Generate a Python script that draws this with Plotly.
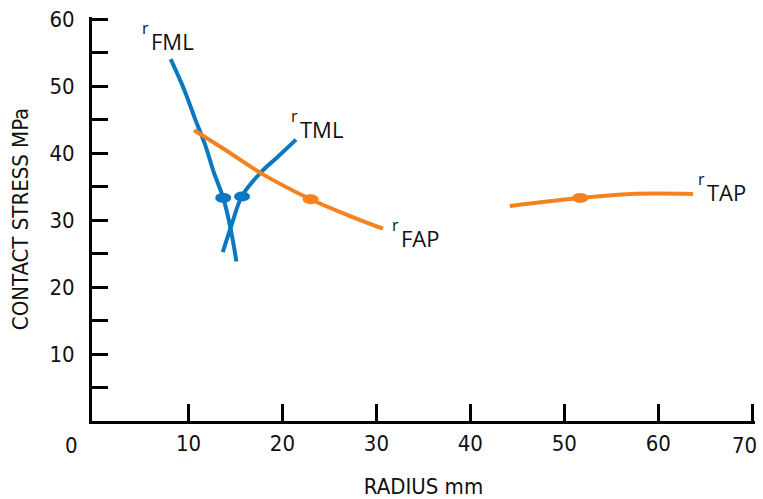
import plotly.graph_objects as go

# ---- data ----
fml_x = [8.1, 9.5, 10.7, 11.8, 12.7, 13.7, 14.5, 15.1]
fml_y = [54.0, 49.6, 45.1, 41.1, 37.1, 33.3, 28.6, 23.8]

tml_x = [13.65, 14.6, 15.7, 17.7, 19.4, 21.45]
tml_y = [25.2, 29.3, 33.6, 37.1, 39.3, 42.0]

fap_x = [10.6, 14.1, 17.7, 23.0, 27.0, 30.7]
fap_y = [43.4, 40.3, 37.0, 33.1, 30.7, 28.7]

tap_x = [44.2, 51.7, 57.1, 63.7]
tap_y = [32.1, 33.3, 33.9, 33.9]

blue_pts_x = [13.7, 15.7]
blue_pts_y = [33.3, 33.5]
orange_pts_x = [23.0, 51.7]
orange_pts_y = [33.1, 33.3]

labels = ["FML", "TML", "FAP", "TAP"]
label_x = [4.9, 20.8, 31.6, 64.1]
label_y = [55.7, 42.5, 26.3, 33.1]

x_ticks = [10, 20, 30, 40, 50, 60, 70]
x_ticktext = ["10", "20", "30", "40", "50", "60", ""]   # "0" and "70" drawn at the corners
y_ticks = [0, 5, 10, 15, 20, 25, 30, 35, 40, 45, 50, 55, 60]
y_ticktext = ["" if (v % 10 or v == 0) else str(v) for v in y_ticks]

BLUE = "#0a79c2"
ORANGE = "#f5821f"
TICKFONT = "DejaVu Sans Condensed, Liberation Sans Narrow, sans-serif"
LABFONT = "Open Sans, Noto Sans, sans-serif"
TXT = "#111111"

fig = go.Figure()
for xs, ys, c in [(fml_x, fml_y, BLUE), (tml_x, tml_y, BLUE),
                  (fap_x, fap_y, ORANGE), (tap_x, tap_y, ORANGE)]:
    fig.add_trace(go.Scatter(x=xs, y=ys, mode="lines",
                             line=dict(color=c, width=4, shape="spline"),
                             showlegend=False, hoverinfo="skip"))

shapes = []
for xs, ys, c in [(blue_pts_x, blue_pts_y, BLUE), (orange_pts_x, orange_pts_y, ORANGE)]:
    for x, y in zip(xs, ys):
        shapes.append(dict(type="circle", xref="x", yref="y",
                           xsizemode="pixel", ysizemode="pixel",
                           xanchor=x, yanchor=y, x0=-8, x1=8, y0=-5, y1=5,
                           fillcolor=c, line=dict(width=0)))

annotations = []
for t, x, y in zip(labels, label_x, label_y):
    annotations.append(dict(x=x, y=y, xref="x", yref="y", text=t,
                            showarrow=False, xanchor="left", yanchor="bottom",
                            xshift=8, yshift=-10,
                            font=dict(family=LABFONT, size=22, color=TXT)))
    annotations.append(dict(x=x, y=y, xref="x", yref="y", text="r",
                            showarrow=False, xanchor="left", yanchor="bottom",
                            xshift=-1, yshift=7,
                            font=dict(family=LABFONT, size=16, color=TXT)))
annotations.append(dict(x=-0.018, y=-0.025, xref="paper", yref="paper", text="0",
                        showarrow=False, xanchor="right", yanchor="top",
                        font=dict(family=TICKFONT, size=22, color=TXT)))
annotations.append(dict(x=1.006, y=-0.025, xref="paper", yref="paper", text="70",
                        showarrow=False, xanchor="right", yanchor="top",
                        font=dict(family=TICKFONT, size=22, color=TXT)))

fig.update_layout(
    width=763, height=499,
    margin=dict(l=91.5, r=8.2, t=17, b=78),
    plot_bgcolor="white", paper_bgcolor="white",
    shapes=shapes, annotations=annotations,
    xaxis=dict(range=[-0.27, 70.3], tickvals=x_ticks, ticktext=x_ticktext,
               ticks="inside", ticklen=17, tickwidth=2.5, tickcolor="black",
               showline=True, linecolor="black", linewidth=3, showgrid=False,
               zeroline=False, ticklabelstandoff=1, automargin=False,
               ticklabeloverflow="allow",
               tickfont=dict(family=TICKFONT, size=22, color=TXT),
               title=dict(text="RADIUS mm", font=dict(family=TICKFONT, size=22, color=TXT),
                          standoff=25)),
    yaxis=dict(range=[0, 60.3], tickvals=y_ticks, ticktext=y_ticktext,
               ticks="inside", ticklen=16, tickwidth=2.5, tickcolor="black",
               showline=True, linecolor="black", linewidth=3, showgrid=False,
               zeroline=False, ticklabelstandoff=10, automargin=False,
               ticklabeloverflow="allow",
               tickfont=dict(family=TICKFONT, size=22, color=TXT),
               title=dict(text="CONTACT STRESS MPa", font=dict(family=TICKFONT, size=22, color=TXT),
                          standoff=15)),
)

fig.write_html("out.html", config={"displayModeBar": False},
               post_script="document.body.style.margin='0';document.body.style.overflow='hidden';")
